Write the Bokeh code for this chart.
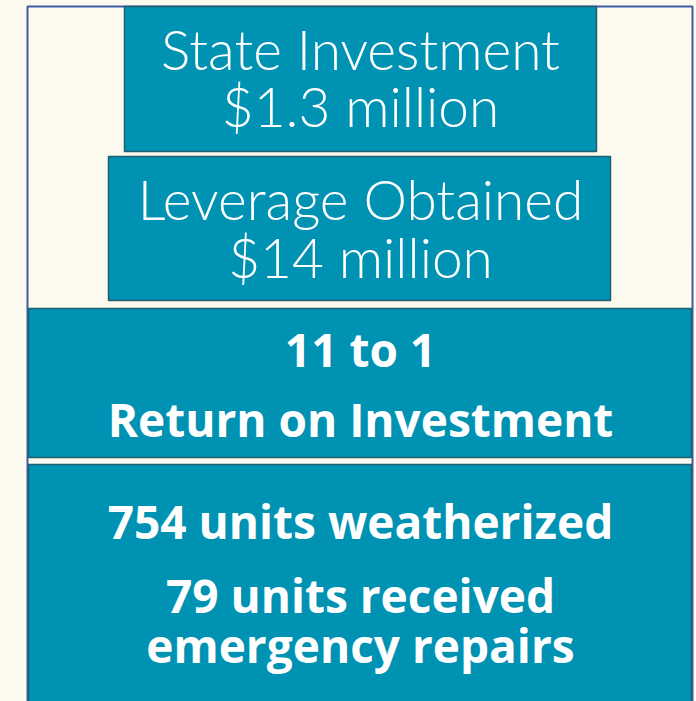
from bokeh.plotting import figure
from bokeh.models import Range1d, ColumnDataSource
from bokeh.core.properties import value
from bokeh.embed import file_html
from bokeh.resources import INLINE

# ---- data (texts of the infographic) ----
top_box_lines = ["State Investment", "$1.3 million"]
leverage_lines = ["Leverage Obtained", "$14 million"]
roi_lines = ["11 to 1", "Return on Investment"]
outcome_lines = ["754 units weatherized", "79 units received", "emergency repairs"]

# ---- style ----
CREAM = "#FCF9EE"
TEAL = "#0092B3"
EDGE = "#215F6C"
FRAME = "#3D5CA6"

W, H = 696, 701
p = figure(width=W, height=H, output_backend="svg", toolbar_location=None,
           x_range=Range1d(0, W), y_range=Range1d(H, 0),
           min_border=0, background_fill_color=CREAM, border_fill_color=CREAM,
           outline_line_color=None)
p.axis.visible = False
p.grid.visible = False

# outer frame
p.quad(left=[27], right=[692], top=[6], bottom=[760], fill_color=None,
       line_color=FRAME, line_width=2)

# boxes (page-pixel layout)
boxes = dict(left=[124, 108, 28, 28], right=[596, 610, 691, 691],
             top=[6, 156, 308, 464], bottom=[151, 300, 457, 760])
p.quad(source=ColumnDataSource(boxes), left="left", right="right", top="top",
       bottom="bottom", fill_color=TEAL, line_color=EDGE, line_width=1.5)

def put(lines, centers, size, font, style):
    src = ColumnDataSource(dict(x=[360] * len(lines), y=centers, t=lines))
    p.text(x="x", y="y", text="t", source=src, text_color="white",
           text_align="center", text_baseline="middle",
           text_font=value(font), text_font_size=size, text_font_style=style)

put(top_box_lines, [48, 105], "55px", "Lato Light, Lato", "normal")
put(leverage_lines, [198, 256], "55px", "Lato Light, Lato", "normal")
put(roi_lines, [348, 418], "46px", "Open Sans", "bold")
put(outcome_lines, [520, 594, 644], "46px", "Open Sans", "bold")

html = file_html(p, INLINE)
html = html.replace("<body>", '<body style="background:%s">' % CREAM)
open("out.html", "w").write(html)
